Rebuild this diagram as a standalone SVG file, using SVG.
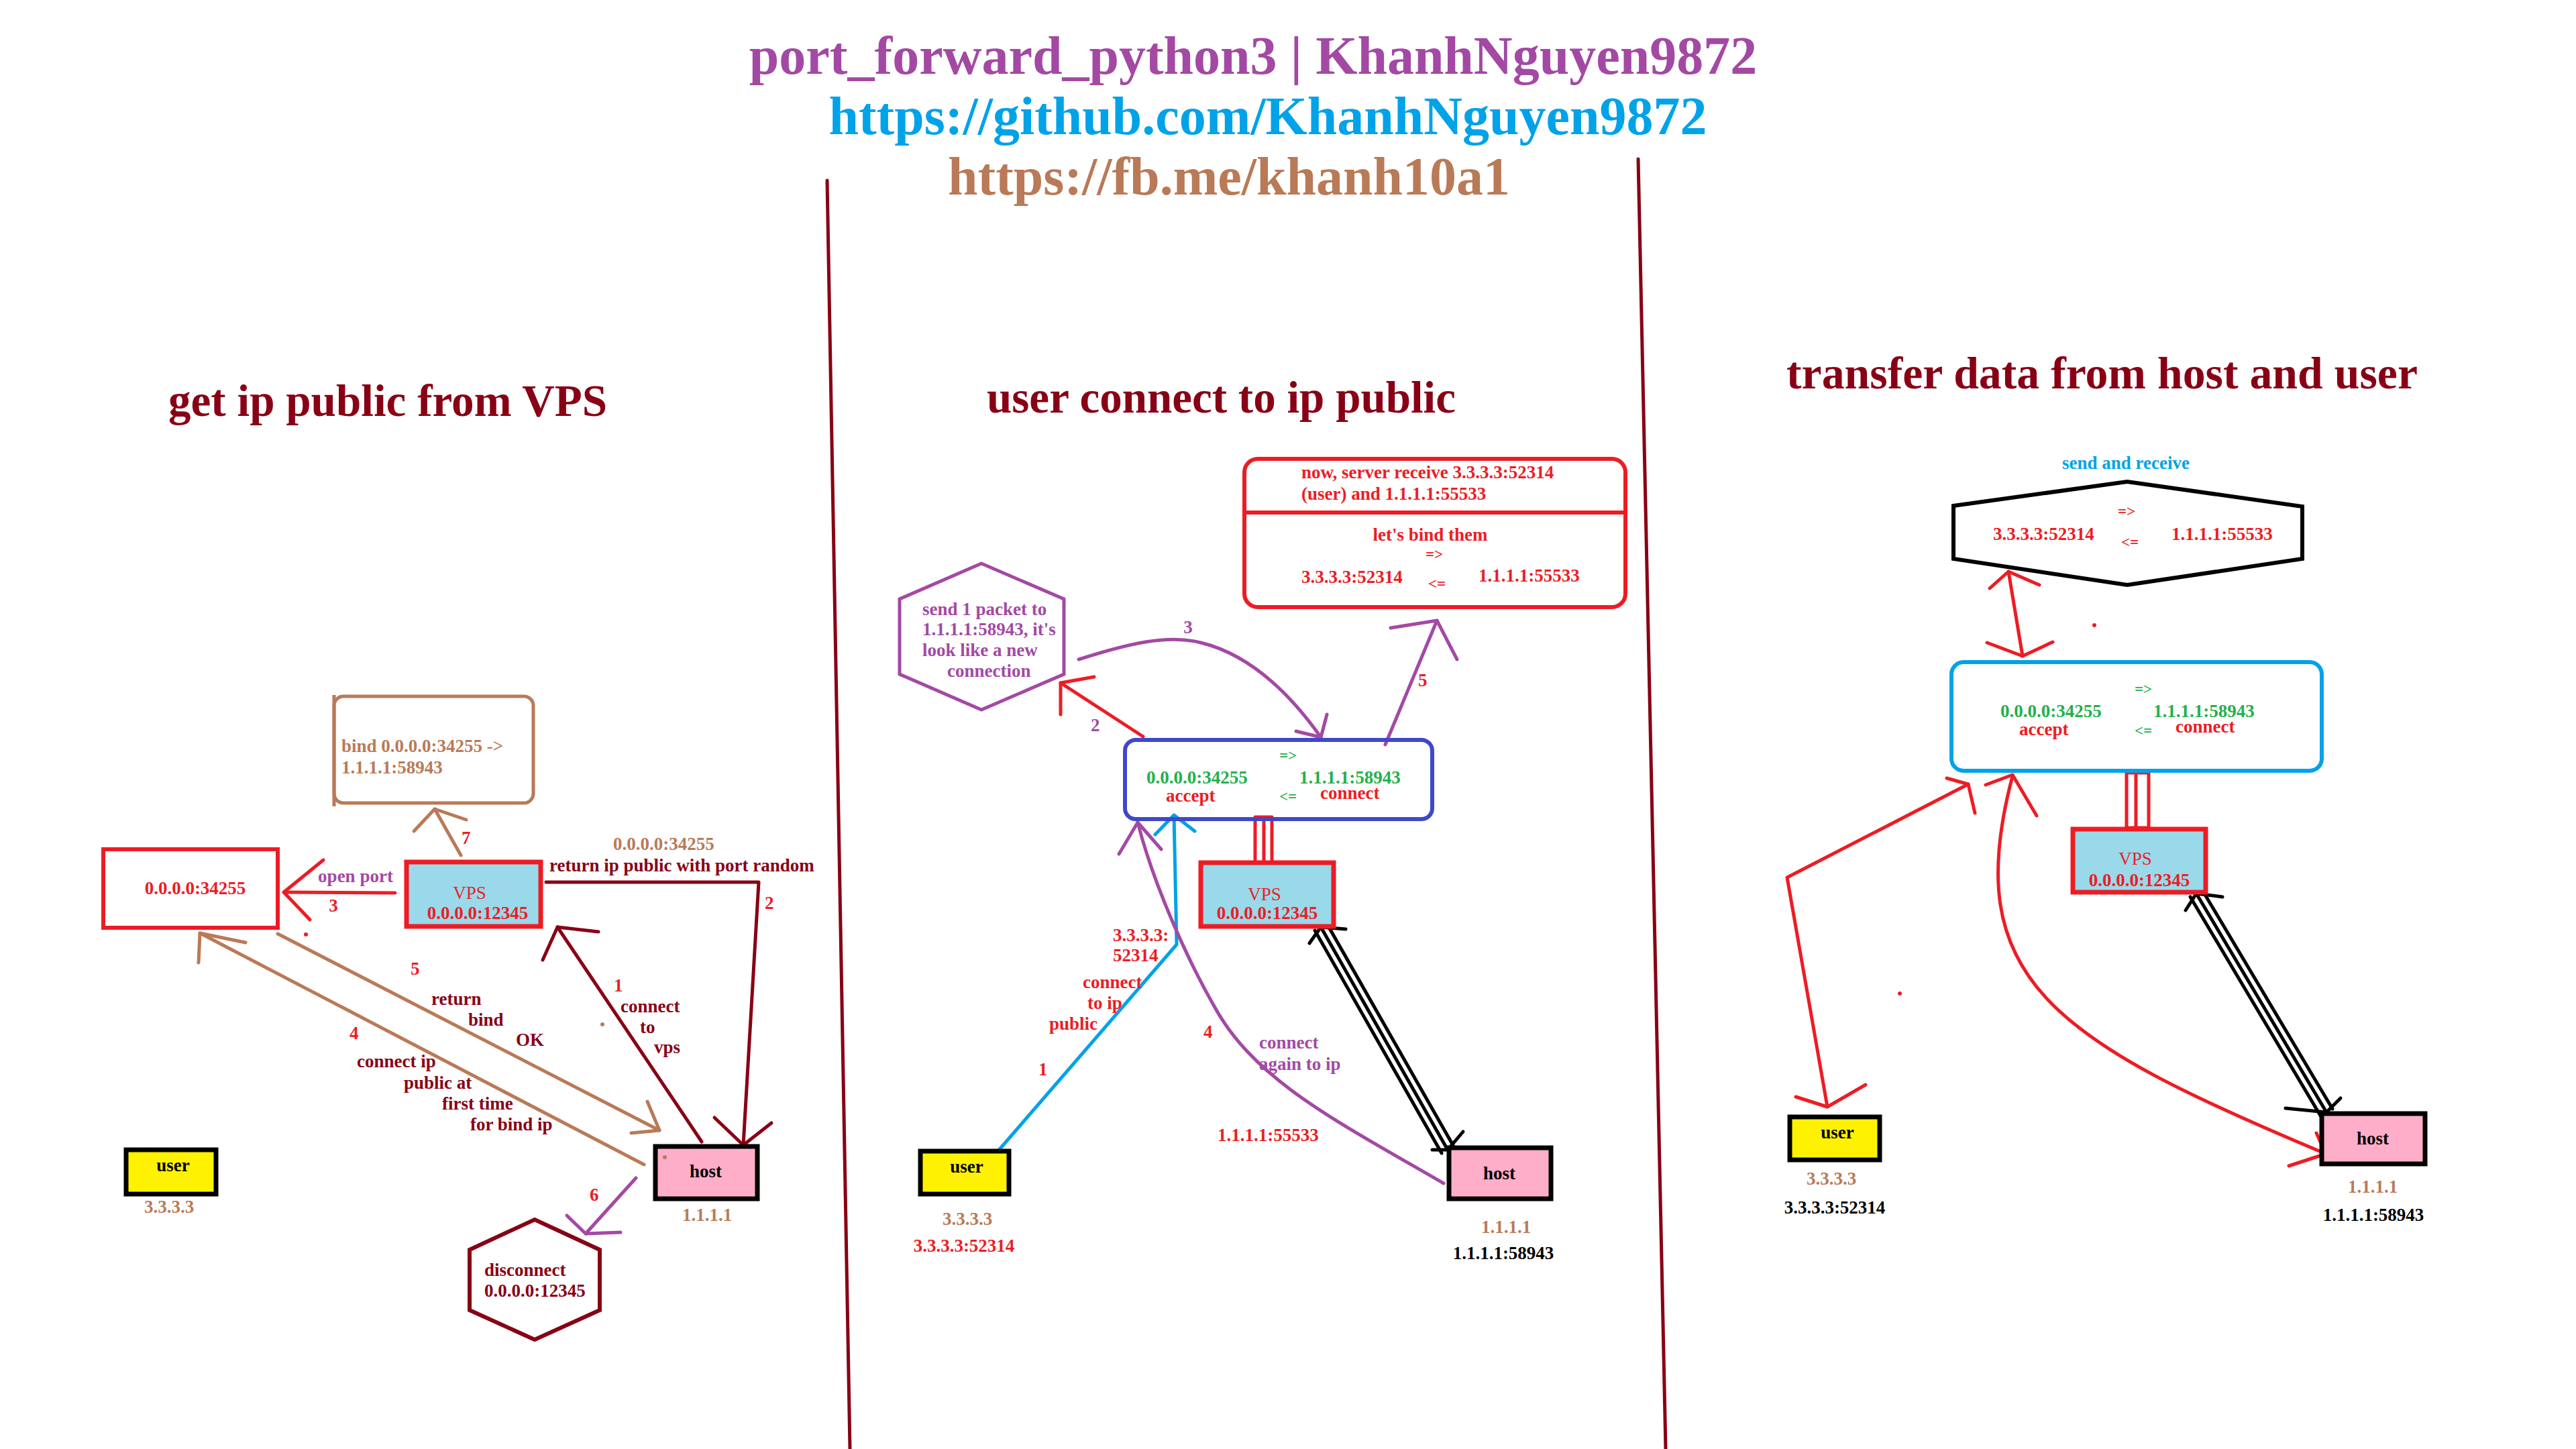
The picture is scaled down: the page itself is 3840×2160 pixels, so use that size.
<svg xmlns="http://www.w3.org/2000/svg" width="3840" height="2160" viewBox="0 0 3840 2160">
<style>
.t{font-family:"Liberation Serif","Times New Roman",serif;font-weight:bold;font-size:27px}
.n{font-weight:normal}
.c{text-anchor:middle}
.dr{fill:#880015}.rd{fill:#ED1C24}.br{fill:#B97A57}.pu{fill:#A349A4}.bl{fill:#00A2E8}.gr{fill:#22B14C}.bk{fill:#000}
.ln{fill:none;stroke-width:5;stroke-linecap:round;stroke-linejoin:round}
.sdr{stroke:#880015}.srd{stroke:#ED1C24}.sbr{stroke:#B97A57}.spu{stroke:#A349A4}.sbl{stroke:#00A2E8}.sbk{stroke:#000}
.vps{fill:#99D9EA;stroke:#ED1C24;stroke-width:7}
.host{fill:#FFAEC9;stroke:#000;stroke-width:7}
.user{fill:#FFF200;stroke:#000;stroke-width:7}
.h1{font-size:80px}
.h2{font-size:67px}
.sm{font-size:23px}
</style>
<rect width="3840" height="2160" fill="#fff"/>

<g id="titles">
<text class="t h1 pu c" x="1868" y="110">port_forward_python3 | KhanhNguyen9872</text>
<text class="t h1 bl c" x="1890" y="200">https://github.com/KhanhNguyen9872</text>
<text class="t h1 br c" x="1832" y="290">https://fb.me/khanh10a1</text>
<text class="t h2 dr" x="251" y="620" textLength="654" lengthAdjust="spacingAndGlyphs">get ip public from VPS</text>
<text class="t h2 dr" x="1471" y="615" textLength="699" lengthAdjust="spacingAndGlyphs">user connect to ip public</text>
<text class="t h2 dr" x="2663" y="579" textLength="941" lengthAdjust="spacingAndGlyphs">transfer data from host and user</text>
</g>

<g id="dividers">
<line class="ln sdr" x1="1233" y1="269" x2="1267" y2="2160"/>
<line class="ln sdr" x1="2442" y1="237" x2="2483" y2="2160"/>
</g>

<g id="connectors">
<!-- left panel -->
<line class="ln srd" x1="589" y1="1331" x2="423" y2="1330"/>
<polyline class="ln srd" points="482,1282 423,1330 462,1371"/>
<line class="ln sbr" x1="687" y1="1275" x2="648" y2="1206"/>
<polyline class="ln sbr" points="617,1239 648,1206 695,1222"/>
<polyline class="ln sdr" points="814,1315 1131,1315 1108,1707"/>
<polyline class="ln sdr" points="1065,1666 1108,1707 1150,1674"/>
<line class="ln sdr" x1="1046" y1="1702" x2="831" y2="1382"/>
<polyline class="ln sdr" points="809,1431 831,1382 892,1389"/>
<line class="ln sbr" x1="960" y1="1736" x2="298" y2="1391"/>
<polyline class="ln sbr" points="296,1435 298,1391 366,1405"/>
<line class="ln sbr" x1="414" y1="1392" x2="983" y2="1685"/>
<polyline class="ln sbr" points="965,1642 983,1685 941,1689"/>
<line class="ln spu" x1="948" y1="1756" x2="873" y2="1839"/>
<polyline class="ln spu" points="845,1812 873,1839 925,1837"/>
<!-- middle panel -->
<line class="ln srd" x1="1704" y1="1098" x2="1581" y2="1018"/>
<polyline class="ln srd" points="1581,1065 1581,1018 1631,1009"/>
<path class="ln spu" d="M1608,983 C1680,960 1740,945 1790,958 C1860,975 1920,1030 1969,1099"/>
<polyline class="ln spu" points="1978,1065 1969,1099 1932,1090"/>
<line class="ln spu" x1="2065" y1="1110" x2="2142" y2="925"/>
<polyline class="ln spu" points="2073,936 2142,925 2172,983"/>
<polyline class="ln sbl" points="1485,1719 1754,1408 1750,1215"/>
<polyline class="ln sbl" points="1722,1244 1750,1215 1781,1239"/>
<path class="ln spu" d="M2152,1764 C1990,1670 1870,1610 1810,1500 C1770,1430 1720,1320 1696,1226"/>
<polyline class="ln spu" points="1668,1273 1696,1226 1731,1266"/>
<rect class="ln srd" x="1871" y="1218" width="25" height="70"/>
<line class="ln srd" x1="1884" y1="1222" x2="1884" y2="1305"/>
<line class="ln sbk" x1="1969" y1="1382" x2="2158" y2="1714"/>
<line class="ln sbk" x1="1978" y1="1377" x2="2167" y2="1709"/>
<line class="ln sbk" x1="1960" y1="1387" x2="2149" y2="1719"/>
<polyline class="ln sbk" points="1952,1406 1969,1382 2006,1385"/>
<polyline class="ln sbk" points="2135,1714 2158,1714 2181,1687"/>
<!-- right panel -->
<line class="ln srd" x1="2994" y1="852" x2="3015" y2="978"/>
<polyline class="ln srd" points="2966,877 2994,852 3040,872"/>
<polyline class="ln srd" points="2962,958 3015,978 3060,957"/>
<rect class="ln srd" x="3170" y="1152" width="33" height="82"/>
<line class="ln srd" x1="3184" y1="1155" x2="3184" y2="1243"/>
<polyline class="ln srd" points="2724,1650 2664,1308 2934,1169"/>
<polyline class="ln srd" points="2902,1160 2934,1169 2944,1212"/>
<polyline class="ln srd" points="2677,1635 2724,1650 2781,1617"/>
<path class="ln srd" d="M3000,1157 C2920,1460 3060,1550 3467,1720"/>
<polyline class="ln srd" points="2960,1170 3000,1155 3036,1216"/>
<polyline class="ln srd" points="3453,1689 3467,1720 3412,1738"/>
<line class="ln sbk" x1="3274" y1="1332" x2="3468" y2="1658"/>
<line class="ln sbk" x1="3283" y1="1327" x2="3477" y2="1653"/>
<line class="ln sbk" x1="3265" y1="1337" x2="3459" y2="1663"/>
<polyline class="ln sbk" points="3258,1357 3274,1332 3313,1337"/>
<polyline class="ln sbk" points="3407,1652 3468,1658 3489,1637"/>
<!-- connector labels -->
<text class="t pu c" x="530" y="1315">open port</text>
<text class="t rd c" x="497" y="1359">3</text>
<text class="t rd" x="688" y="1258">7</text>
<text class="t br" x="914" y="1267">0.0.0.0:34255</text>
<text class="t dr" x="819" y="1299">return ip public with port random</text>
<text class="t rd" x="1140" y="1355">2</text>
<text class="t rd" x="915" y="1478">1</text>
<text class="t dr" x="925" y="1509">connect</text>
<text class="t dr" x="954" y="1540">to</text>
<text class="t dr" x="975" y="1570">vps</text>
<text class="t rd" x="521" y="1549">4</text>
<text class="t dr" x="532" y="1591">connect ip</text>
<text class="t dr" x="602" y="1623">public at</text>
<text class="t dr" x="659" y="1654">first time</text>
<text class="t dr" x="701" y="1685">for bind ip</text>
<text class="t rd" x="612" y="1453">5</text>
<text class="t dr" x="643" y="1498">return</text>
<text class="t dr" x="698" y="1529">bind</text>
<text class="t dr" x="769" y="1559">OK</text>
<text class="t rd" x="879" y="1790">6</text>
<text class="t pu" x="1626" y="1090">2</text>
<text class="t pu c" x="1771" y="944">3</text>
<text class="t rd" x="2114" y="1023">5</text>
<text class="t rd" x="1659" y="1403">3.3.3.3:</text>
<text class="t rd" x="1659" y="1433">52314</text>
<text class="t rd" x="1614" y="1473">connect</text>
<text class="t rd" x="1621" y="1504">to ip</text>
<text class="t rd" x="1564" y="1535">public</text>
<text class="t rd" x="1548" y="1603">1</text>
<text class="t rd" x="1794" y="1547">4</text>
<text class="t pu" x="1877" y="1563">connect</text>
<text class="t pu" x="1877" y="1595">again to ip</text>
<text class="t rd" x="1815" y="1701">1.1.1.1:55533</text>
<text class="t bl c" x="3169" y="699">send and receive</text>
<circle class="rd" cx="456" cy="1393" r="3"/>
<circle class="br" cx="898" cy="1527" r="3"/>
<circle class="rd" cx="3122" cy="932" r="3"/>
<circle class="rd" cx="2832" cy="1481" r="3"/>
</g>

<!-- left panel nodes -->
<g id="l-open">
<rect x="154" y="1266" width="260" height="117" fill="#fff" stroke="#ED1C24" stroke-width="6"/>
<text class="t rd c" x="291" y="1333">0.0.0.0:34255</text>
</g>
<g id="l-vps">
<rect class="vps" x="606" y="1285" width="200" height="96"/>
<text class="t n rd c" x="700" y="1340">VPS</text>
<text class="t rd c" x="712" y="1370">0.0.0.0:12345</text>
</g>
<g id="l-bind">
<rect x="498" y="1038" width="297" height="159" rx="14" fill="none" stroke="#B97A57" stroke-width="5"/>
<line x1="498" y1="1036" x2="498" y2="1202" stroke="#B97A57" stroke-width="5"/>
<text class="t br" x="509" y="1121">bind 0.0.0.0:34255 -&gt;</text>
<text class="t br" x="509" y="1153">1.1.1.1:58943</text>
</g>
<g id="l-user">
<rect class="user" x="188" y="1714" width="134" height="66"/>
<text class="t bk c" x="258" y="1746">user</text>
<text class="t br c" x="252" y="1808">3.3.3.3</text>
</g>
<g id="l-host">
<rect class="host" x="977" y="1709" width="152" height="78"/>
<circle class="br" cx="991" cy="1725" r="3"/>
<text class="t bk c" x="1052" y="1755">host</text>
<text class="t br c" x="1054" y="1820">1.1.1.1</text>
</g>
<g id="l-disconnect">
<polygon points="797,1818 894,1863 894,1953 797,1997 700,1953 700,1863" fill="none" stroke="#880015" stroke-width="6"/>
<text class="t dr" x="722" y="1902">disconnect</text>
<text class="t dr" x="722" y="1933">0.0.0.0:12345</text>
</g>

<!-- middle panel nodes -->
<g id="m-note">
<rect x="1855" y="684" width="568" height="221" rx="20" fill="none" stroke="#ED1C24" stroke-width="6"/>
<line x1="1855" y1="764" x2="2423" y2="764" stroke="#ED1C24" stroke-width="6"/>
<text class="t rd" x="1940" y="713">now, server receive 3.3.3.3:52314</text>
<text class="t rd" x="1940" y="745">(user) and 1.1.1.1:55533</text>
<text class="t rd c" x="2132" y="806">let's bind them</text>
<text class="t rd c sm" x="2138" y="834">=&gt;</text>
<text class="t rd" x="1940" y="869">3.3.3.3:52314</text>
<text class="t rd c sm" x="2142" y="878">&lt;=</text>
<text class="t rd" x="2204" y="867">1.1.1.1:55533</text>
</g>
<g id="m-packet">
<polygon points="1463,840 1586,893 1586,1005 1463,1058 1341,1005 1341,893" fill="none" stroke="#A349A4" stroke-width="5"/>
<text class="t pu" x="1375" y="917">send 1 packet to</text>
<text class="t pu" x="1375" y="947">1.1.1.1:58943, it's</text>
<text class="t pu" x="1375" y="978">look like a new</text>
<text class="t pu" x="1412" y="1009">connection</text>
</g>
<g id="m-bind">
<rect x="1677" y="1103" width="458" height="118" rx="16" fill="none" stroke="#3F48CC" stroke-width="6"/>
<text class="t gr c sm" x="1920" y="1134">=&gt;</text>
<text class="t gr" x="1709" y="1168">0.0.0.0:34255</text>
<text class="t rd" x="1738" y="1195">accept</text>
<text class="t gr c sm" x="1920" y="1195">&lt;=</text>
<text class="t gr" x="1937" y="1168">1.1.1.1:58943</text>
<text class="t rd" x="1968" y="1191">connect</text>
</g>
<g id="m-vps">
<rect class="vps" x="1790" y="1286" width="198" height="95"/>
<text class="t n rd c" x="1885" y="1342">VPS</text>
<text class="t rd c" x="1889" y="1370">0.0.0.0:12345</text>
</g>
<g id="m-user">
<rect class="user" x="1372" y="1716" width="132" height="64"/>
<text class="t bk c" x="1441" y="1748">user</text>
<text class="t br c" x="1442" y="1826">3.3.3.3</text>
<text class="t rd c" x="1437" y="1866">3.3.3.3:52314</text>
</g>
<g id="m-host">
<rect class="host" x="2160" y="1711" width="152" height="76"/>
<text class="t bk c" x="2235" y="1758">host</text>
<text class="t br c" x="2245" y="1838">1.1.1.1</text>
<text class="t bk c" x="2241" y="1877">1.1.1.1:58943</text>
</g>

<!-- right panel nodes -->
<g id="r-transfer">
<polygon points="2912,754 3171,718 3432,755 3432,833 3171,872 2912,833" fill="none" stroke="#000" stroke-width="6"/>
<text class="t rd c sm" x="3170" y="770">=&gt;</text>
<text class="t rd" x="2971" y="805">3.3.3.3:52314</text>
<text class="t rd c sm" x="3175" y="816">&lt;=</text>
<text class="t rd" x="3237" y="805">1.1.1.1:55533</text>
</g>
<g id="r-bind">
<rect x="2909" y="987" width="552" height="162" rx="18" fill="none" stroke="#00A2E8" stroke-width="6"/>
<text class="t gr c sm" x="3195" y="1035">=&gt;</text>
<text class="t gr" x="2982" y="1069">0.0.0.0:34255</text>
<text class="t rd" x="3010" y="1096">accept</text>
<text class="t gr c sm" x="3195" y="1097">&lt;=</text>
<text class="t gr" x="3210" y="1069">1.1.1.1:58943</text>
<text class="t rd" x="3243" y="1092">connect</text>
</g>
<g id="r-vps">
<rect class="vps" x="3090" y="1236" width="198" height="94"/>
<text class="t n rd c" x="3183" y="1289">VPS</text>
<text class="t rd c" x="3189" y="1321">0.0.0.0:12345</text>
</g>
<g id="r-user">
<rect class="user" x="2668" y="1665" width="134" height="64"/>
<text class="t bk c" x="2739" y="1697">user</text>
<text class="t br c" x="2730" y="1766">3.3.3.3</text>
<text class="t bk c" x="2735" y="1809">3.3.3.3:52314</text>
</g>
<g id="r-host">
<rect class="host" x="3461" y="1660" width="154" height="75"/>
<text class="t bk c" x="3537" y="1706">host</text>
<text class="t br c" x="3537" y="1778">1.1.1.1</text>
<text class="t bk c" x="3538" y="1820">1.1.1.1:58943</text>
</g>
</svg>
